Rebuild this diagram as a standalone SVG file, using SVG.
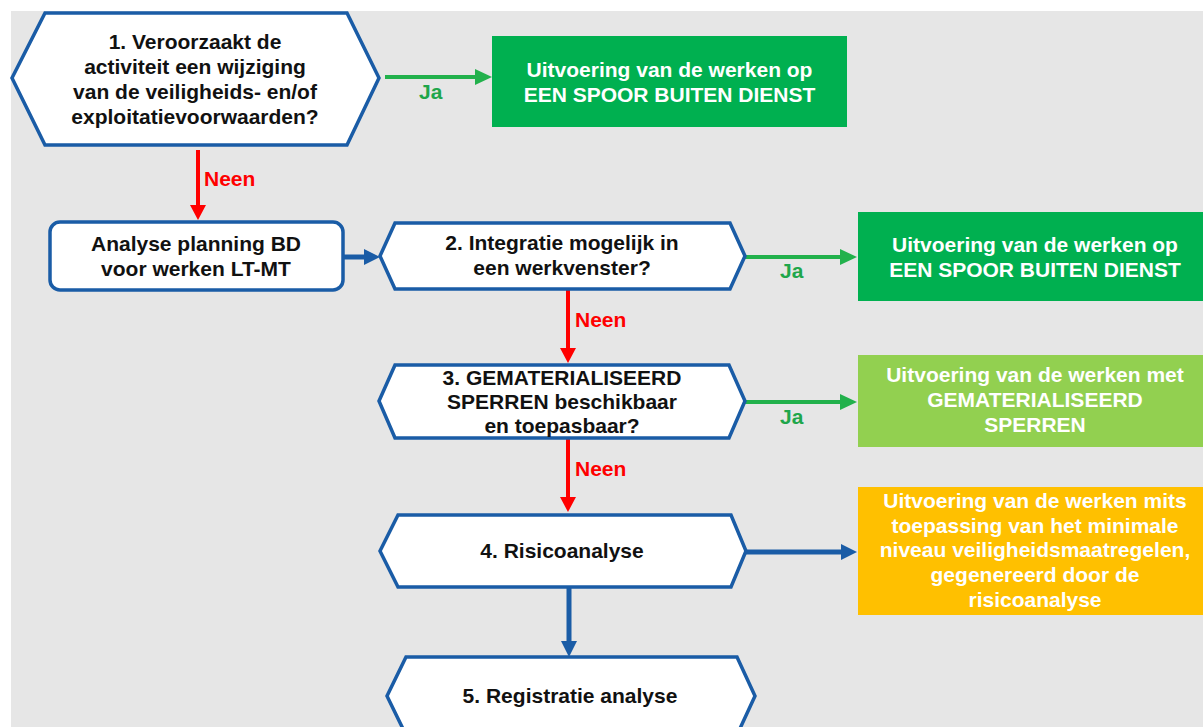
<svg xmlns="http://www.w3.org/2000/svg" width="1203" height="727" viewBox="0 0 1203 727">
<defs>
<style>
.t{font-family:"Liberation Sans",Arial,sans-serif;font-weight:bold;font-size:21px;text-anchor:middle;fill:#111}
.w{fill:#fff}
.hex{fill:#fff;stroke:#1a5ca6;stroke-width:3.5;stroke-linejoin:miter}
.lg{stroke:#22b14c;stroke-width:4;fill:none}
.lr{stroke:#ff0000;stroke-width:4;fill:none}
.lb{stroke:#1a5ca6;stroke-width:5;fill:none}
.ja{font-family:"Liberation Sans",Arial,sans-serif;font-weight:bold;font-size:21px;fill:#1fa64b}
.neen{font-family:"Liberation Sans",Arial,sans-serif;font-weight:bold;font-size:21px;fill:#ff0000}
</style>
<marker id="ag" markerUnits="userSpaceOnUse" markerWidth="18" markerHeight="18" refX="2" refY="9" orient="auto"><path d="M0,1 L17,9 L0,17 z" fill="#22b14c"/></marker>
<marker id="ar" markerUnits="userSpaceOnUse" markerWidth="18" markerHeight="18" refX="2" refY="9" orient="auto"><path d="M0,1 L15,9 L0,17 z" fill="#ff0000"/></marker>
<marker id="ab" markerUnits="userSpaceOnUse" markerWidth="18" markerHeight="18" refX="2" refY="9" orient="auto"><path d="M0,1 L16,9 L0,17 z" fill="#1a5ca6"/></marker>
</defs>
<rect x="0" y="0" width="1203" height="727" fill="#fff"/>
<rect x="11" y="11" width="1192" height="716" fill="#e6e6e6"/>

<g id="connectors">
<line class="lg" x1="385" y1="77" x2="477" y2="77" marker-end="url(#ag)"/>
<text class="ja" x="419" y="99">Ja</text>
<line class="lr" x1="198" y1="150" x2="198" y2="207" marker-end="url(#ar)"/>
<text class="neen" x="204" y="186">Neen</text>
<line class="lb" x1="343" y1="257" x2="366" y2="257" marker-end="url(#ab)"/>
<line class="lg" x1="745" y1="257" x2="842" y2="257" marker-end="url(#ag)"/>
<text class="ja" x="780" y="278">Ja</text>
<line class="lr" x1="568" y1="290" x2="568" y2="350" marker-end="url(#ar)"/>
<text class="neen" x="575" y="327">Neen</text>
<line class="lg" x1="745" y1="402" x2="842" y2="402" marker-end="url(#ag)"/>
<text class="ja" x="780" y="424">Ja</text>
<line class="lr" x1="568" y1="438" x2="568" y2="499" marker-end="url(#ar)"/>
<text class="neen" x="575" y="476">Neen</text>
<line class="lb" x1="746" y1="552" x2="843" y2="552" marker-end="url(#ab)"/>
<line class="lb" x1="569" y1="587" x2="569" y2="643" marker-end="url(#ab)"/>
</g>

<g id="q1">
<polygon class="hex" points="45,13 347,13 379,78 347,145 45,145 12,78"/>
<text class="t" x="195" y="49">1. Veroorzaakt de</text>
<text class="t" x="195" y="74">activiteit een wijziging</text>
<text class="t" x="195" y="99">van de veiligheids- en/of</text>
<text class="t" x="195" y="124">exploitatievoorwaarden?</text>
</g>

<g id="r1">
<rect x="492" y="36" width="355" height="91" fill="#00b050"/>
<text class="t w" x="669.5" y="77">Uitvoering van de werken op</text>
<text class="t w" x="669.5" y="102">EEN SPOOR BUITEN DIENST</text>
</g>

<g id="analyse">
<rect x="50" y="222" width="293" height="68" rx="10" ry="10" class="hex"/>
<text class="t" x="196" y="251">Analyse planning BD</text>
<text class="t" x="196" y="276">voor werken LT-MT</text>
</g>

<g id="q2">
<polygon class="hex" points="395,223 730,223 745,256 730,289 395,289 380,256"/>
<text class="t" x="562" y="250">2. Integratie mogelijk in</text>
<text class="t" x="562" y="275">een werkvenster?</text>
</g>

<g id="r2">
<rect x="858" y="212" width="360" height="89" fill="#00b050"/>
<text class="t w" x="1035" y="252">Uitvoering van de werken op</text>
<text class="t w" x="1035" y="277">EEN SPOOR BUITEN DIENST</text>
</g>

<g id="q3">
<polygon class="hex" points="395,365 729,365 745,401 729,438 395,438 379,401"/>
<text class="t" x="562" y="385">3. GEMATERIALISEERD</text>
<text class="t" x="562" y="409">SPERREN beschikbaar</text>
<text class="t" x="562" y="433">en toepasbaar?</text>
</g>

<g id="r3">
<rect x="858" y="355" width="360" height="92" fill="#92d050"/>
<text class="t w" x="1035" y="382">Uitvoering van de werken met</text>
<text class="t w" x="1035" y="407">GEMATERIALISEERD</text>
<text class="t w" x="1035" y="432">SPERREN</text>
</g>

<g id="q4">
<polygon class="hex" points="398,515 731,515 746,551 731,587 398,587 380,551"/>
<text class="t" x="562" y="558">4. Risicoanalyse</text>
</g>

<g id="r4">
<rect x="858" y="487" width="360" height="128" fill="#ffc000"/>
<text class="t w" x="1035" y="508">Uitvoering van de werken mits</text>
<text class="t w" x="1035" y="533">toepassing van het minimale</text>
<text class="t w" x="1035" y="557">niveau veiligheidsmaatregelen,</text>
<text class="t w" x="1035" y="582">gegenereerd door de</text>
<text class="t w" x="1035" y="607">risicoanalyse</text>
</g>

<g id="q5">
<polygon class="hex" points="406,657 737,657 755,696 737,735 406,735 387,696"/>
<text class="t" x="570" y="703">5. Registratie analyse</text>
</g>
</svg>
